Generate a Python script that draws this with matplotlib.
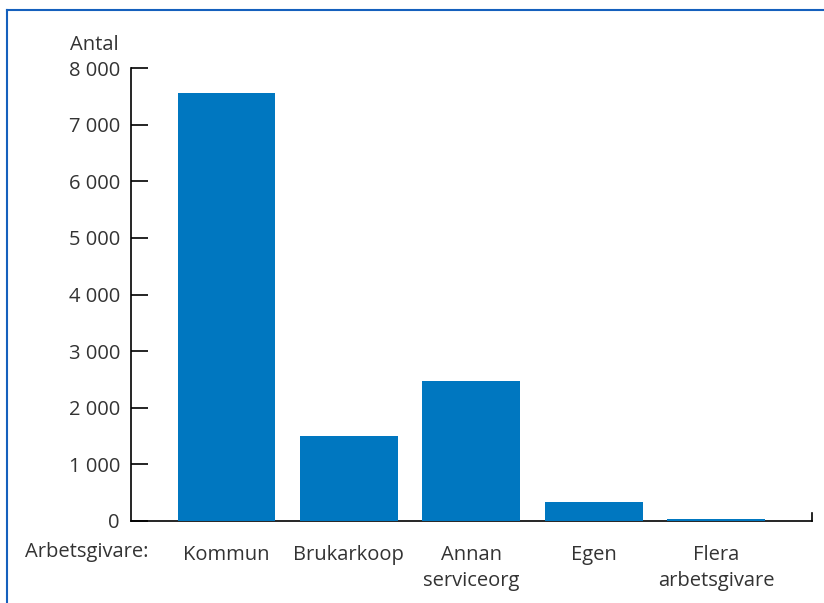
import matplotlib.pyplot as plt
from matplotlib.lines import Line2D

# Data
categories = ["Kommun", "Brukarkoop", "Annan\nserviceorg", "Egen", "Flera\narbetsgivare"]
values = [7560, 1500, 2470, 340, 40]
yticks = [0, 1000, 2000, 3000, 4000, 5000, 6000, 7000, 8000]
ytick_labels = ["0", "1 000", "2 000", "3 000", "4 000", "5 000", "6 000", "7 000", "8 000"]

plt.rcParams['font.family'] = ['Open Sans', 'DejaVu Sans']
text_color = '#333333'

fig = plt.figure(figsize=(8.24, 6.03), dpi=100)
ax = fig.add_axes([0.159, 0.136, 0.826, 0.751])

x = range(len(categories))
ax.bar(x, values, width=0.8, color='#0077C0', zorder=3)

ax.set_xlim(-0.78, len(categories) - 1 + 0.78)
ax.set_ylim(0, 8000)

# spines
ax.spines['top'].set_visible(False)
for side in ['left', 'bottom', 'right']:
    ax.spines[side].set_linewidth(1.2)
    ax.spines[side].set_zorder(2)
ax.spines['right'].set_bounds(0, 140)

ax.set_yticks(yticks)
ax.set_yticklabels(ytick_labels)
ax.tick_params(axis='y', direction='in', length=12, width=1.2, pad=8,
               labelsize=14.5, labelcolor=text_color)
ax.set_xticks(list(x))
ax.set_xticklabels(categories, linespacing=1.45)
ax.tick_params(axis='x', length=0, pad=17, labelsize=14.5, labelcolor=text_color)

# axis titles
fig.text(0.144, 0.926, "Antal", ha='right', va='center', fontsize=14.5, color=text_color)
fig.text(0.030, 0.085, "Arbetsgivare:", ha='left', va='center', fontsize=14.5, color=text_color)

# blue frame (top and left)
frame_color = '#1560BD'
fig.add_artist(Line2D([0.009, 1.0], [0.983, 0.983], transform=fig.transFigure,
                      color=frame_color, linewidth=1.5))
fig.add_artist(Line2D([0.009, 0.009], [0.0, 0.983], transform=fig.transFigure,
                      color=frame_color, linewidth=1.5))

fig.savefig("out.png", dpi=100)
